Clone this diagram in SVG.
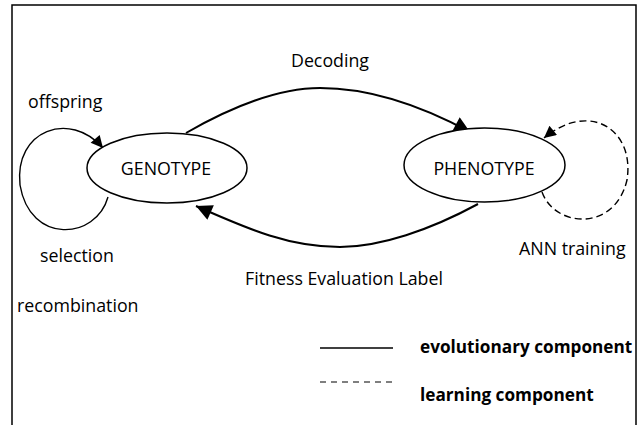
<svg xmlns="http://www.w3.org/2000/svg" width="640" height="425" viewBox="0 0 640 425">
<defs>
<style>
.t{font-family:"Open Sans","Liberation Sans",sans-serif;font-size:17.8px;fill:#000}
.b{font-weight:bold;font-size:17.2px}
.n{fill:#fff;stroke:#000;stroke-width:1.5}
.e{fill:none;stroke:#000;stroke-width:2}
.l{fill:none;stroke:#000;stroke-width:1.4}
.d{stroke-dasharray:7 4}
</style>
<marker id="big" viewBox="0 0 10 10" refX="10" refY="5" markerUnits="userSpaceOnUse" markerWidth="21" markerHeight="16" orient="auto"><path d="M0,0 L10,5 L0,10 z" fill="#000"/></marker>
<marker id="sm" viewBox="0 0 10 10" refX="10" refY="5" markerUnits="userSpaceOnUse" markerWidth="13" markerHeight="12" orient="auto"><path d="M0,0 L10,5 L0,10 z" fill="#000"/></marker>
</defs>
<rect width="640" height="425" fill="#fff"/>
<path d="M12,425 V5 H636 V425" fill="none" stroke="#000" stroke-width="1.5"/>
<g id="connectors">
<path class="e" d="M186,133 C240,102 285,88 320,88 C370,88 420,105 470,132" marker-end="url(#big)"/>
<path class="e" d="M478,204 C430,230 380,247 340,247 C290,247 250,230 196,206" marker-end="url(#big)"/>
<path class="l" d="M108,197 C96,240 30,245 20,185 C14,130 70,110 103,148" marker-end="url(#sm)"/>
<path class="l d" d="M542,192 C555,228 615,232 627,180 C635,130 590,100 544,138" marker-end="url(#sm)"/>
</g>
<g id="genotype">
<ellipse class="n" cx="167" cy="168" rx="80" ry="35"/>
<text class="t" x="166" y="175" text-anchor="middle">GENOTYPE</text>
</g>
<g id="phenotype">
<ellipse class="n" cx="484.5" cy="165" rx="80.5" ry="37"/>
<text class="t" x="484" y="175" text-anchor="middle">PHENOTYPE</text>
</g>
<g id="labels">
<text class="t" x="330" y="67" text-anchor="middle">Decoding</text>
<text class="t" x="344" y="285" text-anchor="middle">Fitness Evaluation Label</text>
<text class="t" x="28" y="108">offspring</text>
<text class="t" x="40" y="262">selection</text>
<text class="t" x="17" y="312">recombination</text>
<text class="t" x="519" y="255">ANN training</text>
</g>
<g id="legend">
<line x1="320" y1="348" x2="393" y2="348" stroke="#000" stroke-width="1.5"/>
<line x1="320" y1="382" x2="393" y2="382" stroke="#000" stroke-width="1.2" stroke-dasharray="6 5"/>
<text class="t b" x="420" y="353">evolutionary component</text>
<text class="t b" x="420" y="401">learning component</text>
</g>
</svg>
